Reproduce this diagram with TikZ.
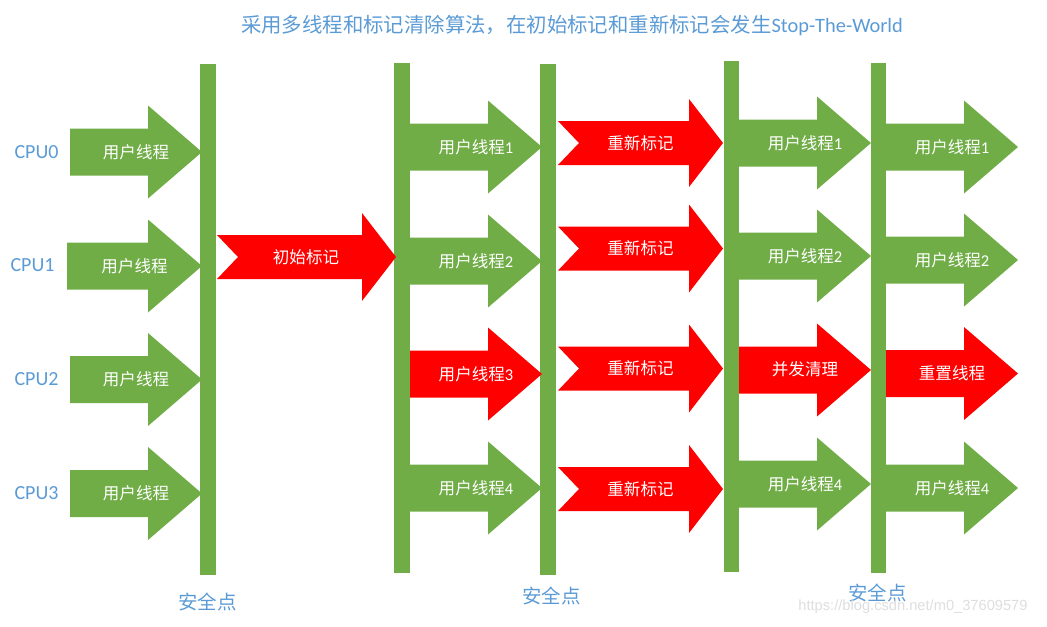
\documentclass[tikz,border=0pt]{standalone}
\usepackage{fontspec}
\setmainfont{Carlito}
\newfontfamily\cjk{Noto Sans CJK SC}
\newfontfamily\wmfont{Liberation Sans}
\usepackage{xcolor}
\definecolor{threadgreen}{RGB}{112,173,71}
\definecolor{markred}{RGB}{255,0,0}
\definecolor{labelblue}{RGB}{91,155,213}
\definecolor{wmgray}{RGB}{222,222,222}

% block arrow: fill, left x, tip x, mid y
\newcommand{\thrarrow}[4]{%
  \fill[#1] (#2,#4-23.5) -- (#3-54,#4-23.5) -- (#3-54,#4-46.5) -- (#3,#4)
    -- (#3-54,#4+46.5) -- (#3-54,#4+23.5) -- (#2,#4+23.5) -- cycle;}
% notched red arrow: left x, tip x, mid y
\newcommand{\markarrow}[3]{%
  \fill[markred] (#1,#3-22) -- (#2-34,#3-22) -- (#2-34,#3-44) -- (#2,#3)
    -- (#2-34,#3+44) -- (#2-34,#3+22) -- (#1,#3+22) -- (#1+21,#3) -- cycle;}

\begin{document}
\begin{tikzpicture}[x=0.75pt,y=-0.75pt,
    title/.style={font=\fontsize{15.3}{18}\selectfont,text=labelblue},
    cpu/.style={font=\fontsize{15}{18}\selectfont,text=labelblue},
    safe/.style={font=\cjk\fontsize{14.6}{17}\selectfont,text=labelblue},
    lbl/.style={font=\fontsize{12.4}{15}\selectfont,text=white,inner sep=0pt},
    bar/.style={fill=threadgreen}
]
\useasboundingbox (0,0) rectangle (1047,626);

% safepoint bars
\fill[bar] (200,64) rectangle (216,575);
\fill[bar] (394,63) rectangle (410,573);
\fill[bar] (540,64) rectangle (556,575);
\fill[bar] (724,61) rectangle (739,572);
\fill[bar] (871,63) rectangle (886,573);

% first phase
\thrarrow{threadgreen}{70}{202}{152}
\thrarrow{threadgreen}{67}{202}{266}
\thrarrow{threadgreen}{70}{202}{379.5}
\thrarrow{threadgreen}{70}{202}{493.5}
\markarrow{217}{396}{257}

% second phase
\thrarrow{threadgreen}{410}{542}{147}
\thrarrow{threadgreen}{410}{542}{261}
\thrarrow{markred}{410}{542}{374}
\thrarrow{threadgreen}{410}{542}{488}
\markarrow{558}{723}{143}
\markarrow{558}{723}{248.5}
\markarrow{558}{723}{368.5}
\markarrow{558}{723}{489}

% third phase
\thrarrow{threadgreen}{739}{871}{143}
\thrarrow{threadgreen}{739}{871}{256}
\thrarrow{markred}{739}{871}{370}
\thrarrow{threadgreen}{739}{871}{484}
\thrarrow{threadgreen}{886}{1018}{147}
\thrarrow{threadgreen}{886}{1018}{260}
\thrarrow{markred}{886}{1018}{373.5}
\thrarrow{threadgreen}{886}{1018}{488}

\node[title] (title) at (572,25) {{\cjk 采用多线程和标记清除算法，在初始标记和重新标记会发生}Stop-The-World};

\node[cpu] (cpu0) at (36.5,152) {CPU0};
\node[cpu] (cpu1) at (32.5,265) {CPU1};
\node[cpu] (cpu2) at (36.5,379) {CPU2};
\node[cpu] (cpu3) at (36.5,493) {CPU3};

\node[lbl] (u0) at (136,152) {\cjk 用户线程};
\node[lbl] (u1) at (134.5,266) {\cjk 用户线程};
\node[lbl] (u2) at (136,379.5) {\cjk 用户线程};
\node[lbl] (u3) at (136,493.5) {\cjk 用户线程};
\node[lbl] (init) at (306,257) {\cjk 初始标记};

\node[lbl] (a1) at (476,147) {{\cjk 用户线程}1};
\node[lbl] (a2) at (476,261) {{\cjk 用户线程}2};
\node[lbl] (a3) at (476,374) {{\cjk 用户线程}3};
\node[lbl] (a4) at (476,488) {{\cjk 用户线程}4};
\node[lbl] (re1) at (640.5,143) {\cjk 重新标记};
\node[lbl] (re2) at (640.5,248.5) {\cjk 重新标记};
\node[lbl] (re3) at (640.5,368.5) {\cjk 重新标记};
\node[lbl] (re4) at (640.5,489) {\cjk 重新标记};

\node[lbl] (b1) at (805,143) {{\cjk 用户线程}1};
\node[lbl] (b2) at (805,256) {{\cjk 用户线程}2};
\node[lbl] (sweep) at (805,369) {\cjk 并发清理};
\node[lbl] (b4) at (805,484) {{\cjk 用户线程}4};
\node[lbl] (c1) at (952,147) {{\cjk 用户线程}1};
\node[lbl] (c2) at (952,260) {{\cjk 用户线程}2};
\node[lbl] (reset) at (952,373.5) {\cjk 重置线程};
\node[lbl] (c4) at (952,488) {{\cjk 用户线程}4};

\node[safe] (sp1) at (207.5,602) {安全点};
\node[safe] (sp2) at (551.5,596) {安全点};
\node[safe] (sp3) at (877.5,593) {安全点};

\node[font=\wmfont\fontsize{11}{13}\selectfont,text=wmgray] (wm) at (913,607) {https://blog.csdn.net/m0\_37609579};
\end{tikzpicture}
\end{document}
